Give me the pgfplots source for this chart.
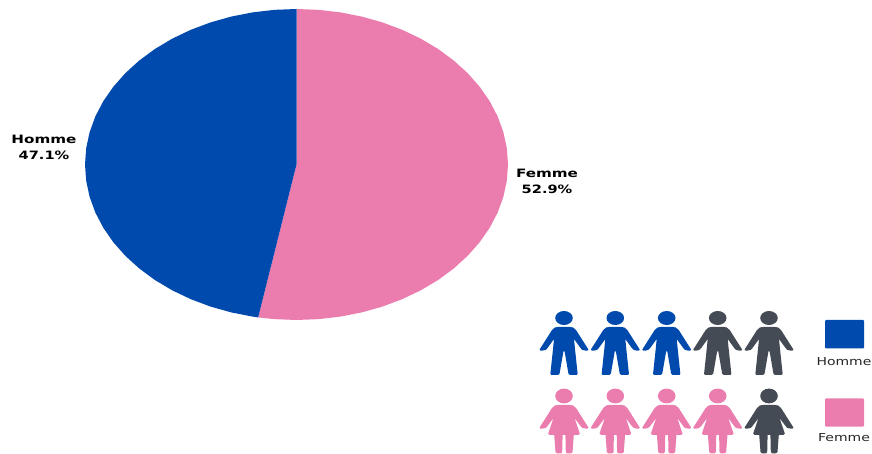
\documentclass[border=0pt]{standalone}
\usepackage{fontspec}
\setmainfont{DejaVu Sans}
\usepackage{pgfplots}
\pgfplotsset{compat=1.18}
\definecolor{homme}{HTML}{004AAD}
\definecolor{femme}{HTML}{EA7DAE}
\definecolor{reste}{HTML}{454B54}

% Person icons, origin at the centre of the head, y pointing down, unit 1bp
\tikzset{
  man/.pic={
    \begin{scope}[x=1bp,y=-1bp]
      \fill (0,0) ellipse [x radius=8.8bp,y radius=7bp];
      \fill (0,8.8) -- (5,8.8) .. controls (8,8.8) and (10.5,9.6) .. (12,12)
        -- (24.4,31.5) .. controls (24.6,32.6) and (23,33) .. (21.5,32.6)
        .. controls (19,32.4) and (17.5,32) .. (16.5,30) -- (10,21)
        -- (11,31) -- (13.6,55.5) .. controls (13.7,56.8) and (12.5,57) .. (11.5,57)
        -- (6,57) .. controls (5,57) and (4.6,56.5) .. (4.4,55.5) -- (0.6,33.5) -- (-0.6,33.5)
        -- (-4.4,55.5) .. controls (-4.6,56.5) and (-5,57) .. (-6,57) -- (-11.5,57)
        .. controls (-12.5,57) and (-13.7,56.8) .. (-13.6,55.5) -- (-11,31) -- (-10,21)
        -- (-16.5,30) .. controls (-17.5,32) and (-19,32.4) .. (-21.5,32.6)
        .. controls (-23,33) and (-24.6,32.6) .. (-24.4,31.5)
        -- (-12,12) .. controls (-10.5,9.6) and (-8,8.8) .. (-5,8.8) -- cycle;
    \end{scope}
  },
  woman/.pic={
    \begin{scope}[x=1bp,y=-1bp]
      \fill (0,0) ellipse [x radius=8.8bp,y radius=7.4bp];
      \fill (0,8.8) -- (5,8.8) .. controls (8,8.8) and (10.5,9.6) .. (12,12)
        -- (24.4,31.5) .. controls (24.6,32.6) and (23,33) .. (21.5,32.6)
        .. controls (19,32.4) and (17.5,32) .. (16.5,30) -- (10.5,22)
        -- (15.8,37.5) .. controls (16,38.4) and (15.5,38.8) .. (14.5,38.8)
        -- (9.8,38.8) -- (8.5,56) .. controls (8.4,57) and (7.8,57.3) .. (7,57.3)
        -- (3,57.3) .. controls (2.2,57.3) and (1.9,57) .. (1.8,56) -- (1.4,38.8)
        -- (-1.4,38.8) -- (-1.8,56) .. controls (-1.9,57) and (-2.2,57.3) .. (-3,57.3)
        -- (-7,57.3) .. controls (-7.8,57.3) and (-8.4,57) .. (-8.5,56) -- (-9.8,38.8)
        -- (-14.5,38.8) .. controls (-15.5,38.8) and (-16,38.4) .. (-15.8,37.5) -- (-10.5,22)
        -- (-16.5,30) .. controls (-17.5,32) and (-19,32.4) .. (-21.5,32.6)
        .. controls (-23,33) and (-24.6,32.6) .. (-24.4,31.5)
        -- (-12,12) .. controls (-10.5,9.6) and (-8,8.8) .. (-5,8.8) -- cycle;
    \end{scope}
  }
}

\begin{document}
\begin{tikzpicture}
\begin{axis}[
  scale only axis, width=872bp, height=454bp,
  xmin=0, xmax=872, ymin=0, ymax=454,
  hide axis, clip=false,
]
\path (axis cs:0,0) rectangle (axis cs:872,454);

% Femme, 52.9 %
\addplot[fill=femme, draw=none, forget plot] coordinates {
  (296.5,289.5) (296.5,445) (318.61,444.15) (340.47,441.6) (361.86,437.39) (382.53,431.56)
  (402.25,424.17) (420.82,415.3) (438.02,405.05) (453.67,393.55) (467.61,380.9)
  (479.66,367.25) (489.72,352.75) (497.65,337.55) (503.38,321.83) (506.84,305.75)
  (508,289.5) (506.84,273.25) (503.38,257.17) (497.65,241.45) (489.72,226.25)
  (479.66,211.75) (467.61,198.1) (453.67,185.45) (438.02,173.94) (420.82,163.7)
  (402.25,154.83) (382.53,147.44) (361.86,141.61) (340.47,137.4) (318.61,134.85)
  (296.5,134) (274.39,134.85) (258.17,136.58) (296.5,289.5)
};
% Homme, 47.1 %
\addplot[fill=homme, draw=none, forget plot] coordinates {
  (296.5,289.5) (296.5,445) (274.39,444.15) (252.53,441.6) (231.14,437.39) (210.47,431.56)
  (190.75,424.17) (172.18,415.3) (154.98,405.05) (139.33,393.55) (125.39,380.9)
  (113.34,367.25) (103.28,352.75) (95.35,337.55) (89.62,321.83) (86.16,305.75)
  (85,289.5) (86.16,273.25) (89.62,257.17) (95.35,241.45) (103.28,226.25)
  (113.34,211.75) (125.39,198.1) (139.33,185.45) (154.98,173.94) (172.18,163.7)
  (190.75,154.83) (210.47,147.44) (231.14,141.61) (252.53,137.4) (258.17,136.58) (296.5,289.5)
};

% Slice labels
\node[align=center, inner sep=0pt, font=\fontsize{11.5bp}{16bp}\selectfont\bfseries] at (axis cs:44,307)
  {\scalebox{1.32}[1]{Homme}\\\scalebox{1.27}[1]{47.1\%}};
\node[align=center, inner sep=0pt, font=\fontsize{11.5bp}{16bp}\selectfont\bfseries] at (axis cs:547,273)
  {\scalebox{1.32}[1]{Femme}\\\scalebox{1.27}[1]{52.9\%}};

% Icon rows: three men in five, four women in five
\pic[fill=homme] at (axis cs:564,136) {man};
\pic[fill=homme] at (axis cs:615.3,136) {man};
\pic[fill=homme] at (axis cs:666.7,136) {man};
\pic[fill=reste] at (axis cs:717.7,136) {man};
\pic[fill=reste] at (axis cs:769,136) {man};
\pic[fill=femme] at (axis cs:564,58) {woman};
\pic[fill=femme] at (axis cs:615.3,58) {woman};
\pic[fill=femme] at (axis cs:666.7,58) {woman};
\pic[fill=femme] at (axis cs:717.7,58) {woman};
\pic[fill=reste] at (axis cs:769,58) {woman};

% Key
\fill[homme, rounded corners=1bp] (axis cs:825,134) rectangle (axis cs:864,105.5);
\fill[femme, rounded corners=1bp] (axis cs:825,55.7) rectangle (axis cs:864,27.3);
\node[inner sep=0pt, text=black!85, font=\fontsize{11bp}{13bp}\selectfont] at (axis cs:844,92.5)
  {\scalebox{1.27}[1]{Homme}};
\node[inner sep=0pt, text=black!85, font=\fontsize{11bp}{13bp}\selectfont] at (axis cs:844,16.5)
  {\scalebox{1.27}[1]{Femme}};
\end{axis}
\end{tikzpicture}
\end{document}
